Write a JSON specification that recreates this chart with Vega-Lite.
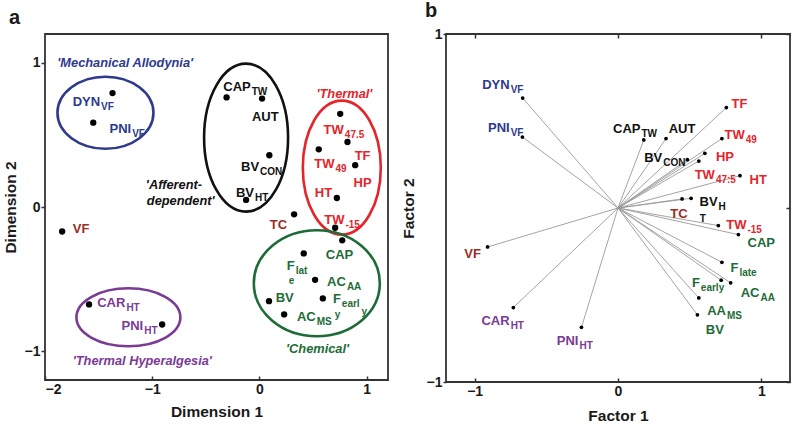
{
  "$schema": "https://vega.github.io/schema/vega-lite/v6.json",
  "background": "white",
  "padding": {"left": 2, "top": 0, "right": 2, "bottom": 2},
  "spacing": 11,
  "config": {
    "font": "Liberation Sans",
    "view": {"stroke": "#333333", "strokeWidth": 1.8},
    "axis": {
      "grid": false, "domain": false,
      "labelFont": "Liberation Sans", "labelFontSize": 14, "labelFontWeight": "bold", "labelColor": "#1a1a1a",
      "titleFont": "Liberation Sans", "titleFontSize": 15.5, "titleFontWeight": "bold", "titleColor": "#1a1a1a",
      "tickColor": "#333333", "tickWidth": 1.5
    },
    "title": {"font": "Liberation Sans", "fontSize": 20, "fontWeight": "bold", "color": "#1a1a1a", "anchor": "start", "baseline": "alphabetic"}
  },
  "datasets": {
    "ellA": [
      {"g": "mech", "x": -1.436, "y": 0.654},
      {"g": "aff", "x": -0.124, "y": 0.481},
      {"g": "therm", "x": 0.769, "y": 0.273},
      {"g": "chem", "x": 0.536, "y": -0.529},
      {"g": "hyper", "x": -1.222, "y": -0.765}
    ],
    "ptsA": [
      {"id": "DYN_VF", "x": -1.37, "y": 0.79},
      {"id": "PNI_VF", "x": -1.55, "y": 0.585},
      {"id": "CAP_TW", "x": -0.306, "y": 0.76},
      {"id": "AUT", "x": 0.025, "y": 0.752},
      {"id": "BV_CON", "x": 0.093, "y": 0.359},
      {"id": "BV_HT", "x": -0.124, "y": 0.049},
      {"id": "TW47.5", "x": 0.754, "y": 0.646},
      {"id": "TW49", "x": 0.554, "y": 0.40},
      {"id": "TF", "x": 0.822, "y": 0.451},
      {"id": "HP", "x": 0.894, "y": 0.29},
      {"id": "HT", "x": 0.723, "y": 0.0625},
      {"id": "TW-15", "x": 0.707, "y": -0.144},
      {"id": "TC", "x": 0.324, "y": -0.051},
      {"id": "VF", "x": -1.84, "y": -0.17},
      {"id": "CAP", "x": 0.773, "y": -0.231},
      {"id": "F_late", "x": 0.414, "y": -0.322},
      {"id": "AC_AA", "x": 0.52, "y": -0.505},
      {"id": "BV", "x": 0.09, "y": -0.653},
      {"id": "F_early", "x": 0.592, "y": -0.634},
      {"id": "AC_MS", "x": 0.231, "y": -0.745},
      {"id": "CAR_HT", "x": -1.589, "y": -0.676},
      {"id": "PNI_HT", "x": -0.907, "y": -0.815}
    ],
    "labA": [
      {"t": "DYN", "s": "VF", "g": "mech", "x": -1.486, "y": 0.699},
      {"t": "PNI", "s": "VF", "g": "mech", "x": -1.196, "y": 0.516},
      {"t": "CAP", "s": "TW", "g": "aff", "x": -0.081, "y": 0.806},
      {"t": "AUT", "s": "", "g": "aff", "x": 0.180, "y": 0.597},
      {"t": "BV", "s": "CON", "g": "aff", "x": -0.003, "y": 0.25},
      {"t": "BV", "s": "HT", "g": "aff", "x": -0.050, "y": 0.072},
      {"t": "TW", "s": "47.5", "g": "therm", "x": 0.788, "y": 0.509},
      {"t": "TF", "s": "", "g": "therm", "x": 1.037, "y": 0.324},
      {"t": "TW", "s": "49", "g": "therm", "x": 0.701, "y": 0.273},
      {"t": "HP", "s": "", "g": "therm", "x": 1.047, "y": 0.141},
      {"t": "HT", "s": "", "g": "therm", "x": 0.679, "y": 0.072},
      {"t": "TW", "s": "-15", "g": "therm", "x": 0.794, "y": -0.116},
      {"t": "TC", "s": "", "g": "tc", "x": 0.259, "y": -0.155},
      {"t": "VF", "s": "", "g": "tc", "x": -1.586, "y": -0.183},
      {"t": "CAP", "s": "", "g": "chem", "x": 0.876, "y": -0.363},
      {"t": "F", "s": "lat", "g": "chem", "x": 0.330, "y": -0.44},
      {"t": "", "s": "e", "g": "chem", "x": 0.264, "y": -0.509},
      {"t": "AC", "s": "AA", "g": "chem", "x": 0.807, "y": -0.549},
      {"t": "BV", "s": "", "g": "chem", "x": 0.321, "y": -0.657},
      {"t": "F", "s": "earl", "g": "chem", "x": 0.760, "y": -0.664},
      {"t": "", "s": "y", "g": "chem", "x": 0.944, "y": -0.72},
      {"t": "AC", "s": "MS", "g": "chem", "x": 0.526, "y": -0.792},
      {"t": "", "s": "y", "g": "chem", "x": 0.694, "y": -0.74},
      {"t": "CAR", "s": "HT", "g": "hyper", "x": -1.25, "y": -0.694},
      {"t": "PNI", "s": "HT", "g": "hyper", "x": -1.084, "y": -0.854}
    ],
    "titA": [
      {"t": "'Mechanical Allodynia'", "g": "mech", "x": -1.885, "y": 0.974},
      {"t": "'Afferent-", "g": "aff", "x": -1.059, "y": 0.123},
      {"t": "dependent'", "g": "aff", "x": -1.05, "y": 0.014},
      {"t": "'Thermal'", "g": "therm", "x": 0.533, "y": 0.759},
      {"t": "'Chemical'", "g": "chem", "x": 0.249, "y": -1.012},
      {"t": "'Thermal Hyperalgesia'", "g": "hyper", "x": -1.741, "y": -1.093}
    ],
    "ptsB": [
      {"id": "DYN_VF", "x": -0.665, "y": 0.632},
      {"id": "PNI_VF", "x": -0.667, "y": 0.408},
      {"id": "CAP_TW", "x": 0.18, "y": 0.391},
      {"id": "AUT", "x": 0.335, "y": 0.399},
      {"id": "TF", "x": 0.756, "y": 0.577},
      {"id": "TW49", "x": 0.725, "y": 0.399},
      {"id": "HP", "x": 0.606, "y": 0.314},
      {"id": "BV_CON", "x": 0.484, "y": 0.278},
      {"id": "TW47.5", "x": 0.564, "y": 0.27},
      {"id": "HT", "x": 0.851, "y": 0.186},
      {"id": "BV_HT", "x": 0.51, "y": 0.056},
      {"id": "TC", "x": 0.447, "y": 0.052},
      {"id": "TW-15", "x": 0.7, "y": -0.101},
      {"id": "CAP", "x": 0.84, "y": -0.153},
      {"id": "F_late", "x": 0.725, "y": -0.312},
      {"id": "F_early", "x": 0.72, "y": -0.415},
      {"id": "AC_AA", "x": 0.786, "y": -0.43},
      {"id": "AA_MS", "x": 0.564, "y": -0.517},
      {"id": "BV", "x": 0.554, "y": -0.614},
      {"id": "VF", "x": -0.91, "y": -0.224},
      {"id": "CAR_HT", "x": -0.73, "y": -0.572},
      {"id": "PNI_HT", "x": -0.255, "y": -0.686}
    ],
    "labB": [
      {"t": "DYN", "s": "VF", "g": "mech", "x": -0.756, "y": 0.684},
      {"t": "PNI", "s": "VF", "g": "mech", "x": -0.756, "y": 0.435},
      {"t": "CAP", "s": "TW", "g": "aff", "x": 0.157, "y": 0.431},
      {"t": "AUT", "s": "", "g": "aff", "x": 0.540, "y": 0.431},
      {"t": "TF", "s": "", "g": "therm", "x": 0.903, "y": 0.573},
      {"t": "TW", "s": "49", "g": "therm", "x": 0.884, "y": 0.397},
      {"t": "HP", "s": "", "g": "therm", "x": 0.809, "y": 0.272},
      {"t": "BV", "s": "CON", "g": "aff", "x": 0.309, "y": 0.267},
      {"t": "TW", "s": "47:5", "g": "therm", "x": 0.676, "y": 0.167},
      {"t": "HT", "s": "", "g": "therm", "x": 1.039, "y": 0.138},
      {"t": "BV", "s": "H", "g": "aff", "x": 0.695, "y": 0.01},
      {"t": "", "s": "T", "g": "aff", "x": 0.564, "y": -0.059},
      {"t": "TC", "s": "", "g": "tc", "x": 0.486, "y": -0.059},
      {"t": "TW", "s": "-15", "g": "therm", "x": 0.896, "y": -0.121},
      {"t": "CAP", "s": "", "g": "chem", "x": 1.095, "y": -0.226},
      {"t": "F", "s": "late", "g": "chem", "x": 0.84, "y": -0.37},
      {"t": "F", "s": "early", "g": "chem", "x": 0.571, "y": -0.456},
      {"t": "AC", "s": "AA", "g": "chem", "x": 0.987, "y": -0.513},
      {"t": "AA", "s": "MS", "g": "chem", "x": 0.753, "y": -0.615},
      {"t": "BV", "s": "", "g": "chem", "x": 0.739, "y": -0.727},
      {"t": "VF", "s": "", "g": "tc", "x": -0.957, "y": -0.289},
      {"t": "CAR", "s": "HT", "g": "hyper", "x": -0.756, "y": -0.672},
      {"t": "PNI", "s": "HT", "g": "hyper", "x": -0.276, "y": -0.785}
    ]
  },
  "hconcat": [
    {
      "width": 343, "height": 346,
      "title": {"text": "a", "dx": 6, "offset": 6},
      "layer": [
        {
          "data": {"name": "ellA"},
          "mark": {"type": "point", "filled": false, "size": 4, "strokeWidth": 2.6, "opacity": 1},
          "encoding": {
            "x": {"field": "x", "type": "quantitative", "scale": {"domain": [-2, 1.2], "nice": false, "zero": false},
                  "axis": {"values": [-2, -1, 0, 1], "format": "d", "tickSize": -4, "labelPadding": 6, "title": "Dimension 1", "titlePadding": 8}},
            "y": {"field": "y", "type": "quantitative", "scale": {"domain": [-1.2, 1.2], "nice": false, "zero": false},
                  "axis": {"values": [-1, 0, 1], "format": "d", "tickSize": 4, "labelPadding": 1, "title": "Dimension 2", "titlePadding": 6}},
            "shape": {"field": "g", "type": "nominal", "legend": null,
                      "scale": {"domain": ["mech", "aff", "therm", "chem", "hyper"],
                                "range": ["M -48 0 A 48 36 0 1 0 48 0 A 48 36 0 1 0 -48 0 Z",
                                          "M -42 0 A 42 74 0 1 0 42 0 A 42 74 0 1 0 -42 0 Z",
                                          "M -39 0 A 39 67 0 1 0 39 0 A 39 67 0 1 0 -39 0 Z",
                                          "M -63 0 A 63 53 0 1 0 63 0 A 63 53 0 1 0 -63 0 Z",
                                          "M -52 0 A 52 29 0 1 0 52 0 A 52 29 0 1 0 -52 0 Z"]}},
            "color": {"field": "g", "type": "nominal", "legend": null,
                      "scale": {"domain": ["mech", "aff", "therm", "tc", "chem", "hyper"],
                                "range": ["#2e3a8c", "#111111", "#e4252b", "#9b2d24", "#1d6b36", "#7b3a93"]}}
          }
        },
        {
          "data": {"name": "ptsA"},
          "mark": {"type": "circle", "size": 40, "color": "#000000", "opacity": 1},
          "encoding": {
            "x": {"field": "x", "type": "quantitative"},
            "y": {"field": "y", "type": "quantitative"}
          }
        },
        {
          "data": {"name": "labA"},
          "mark": {"type": "text", "align": "right", "baseline": "alphabetic", "fontSize": 13, "fontWeight": "bold"},
          "encoding": {
            "x": {"field": "x", "type": "quantitative"},
            "y": {"field": "y", "type": "quantitative"},
            "text": {"field": "t", "type": "nominal"},
            "color": {"field": "g", "type": "nominal", "legend": null}
          }
        },
        {
          "data": {"name": "labA"},
          "mark": {"type": "text", "align": "left", "baseline": "alphabetic", "fontSize": 10, "fontWeight": "bold", "dy": 4, "dx": 1},
          "encoding": {
            "x": {"field": "x", "type": "quantitative"},
            "y": {"field": "y", "type": "quantitative"},
            "text": {"field": "s", "type": "nominal"},
            "color": {"field": "g", "type": "nominal", "legend": null}
          }
        },
        {
          "data": {"name": "titA"},
          "mark": {"type": "text", "align": "left", "baseline": "alphabetic", "fontSize": 12.8, "fontWeight": "bold", "fontStyle": "italic"},
          "encoding": {
            "x": {"field": "x", "type": "quantitative"},
            "y": {"field": "y", "type": "quantitative"},
            "text": {"field": "t", "type": "nominal"},
            "color": {"field": "g", "type": "nominal", "legend": null}
          }
        }
      ]
    },
    {
      "width": 344, "height": 348,
      "title": {"text": "b", "dx": 24, "offset": 6},
      "resolve": {"axis": {"x": "independent", "y": "independent"}},
      "layer": [
        {
          "data": {"name": "ptsB"},
          "mark": {"type": "rule", "color": "#9a9a9a", "strokeWidth": 0.9},
          "encoding": {
            "x": {"field": "x", "type": "quantitative", "scale": {"domain": [-1.2, 1.2], "nice": false, "zero": false},
                  "axis": {"values": [-1, 0, 1], "format": "d", "tickSize": -4, "labelPadding": 6, "title": "Factor 1", "titlePadding": 10}},
            "y": {"field": "y", "type": "quantitative", "scale": {"domain": [-1, 1], "nice": false, "zero": false},
                  "axis": {"values": [-1, 0, 1], "format": "d", "tickSize": 3, "labelPadding": 1, "title": "Factor 2", "titlePadding": 10}},
            "x2": {"datum": 0},
            "y2": {"datum": 0}
          }
        },
        {
          "data": {"name": "ptsB"},
          "mark": {"type": "circle", "size": 14, "color": "#000000", "opacity": 1},
          "encoding": {
            "x": {"field": "x", "type": "quantitative",
                  "axis": {"orient": "top", "values": [-1, 0, 1], "labels": false, "title": null, "tickSize": -4}},
            "y": {"field": "y", "type": "quantitative",
                  "axis": {"orient": "right", "values": [-1, 0, 1], "labels": false, "title": null, "tickSize": -4}}
          }
        },
        {
          "data": {"name": "labB"},
          "mark": {"type": "text", "align": "right", "baseline": "alphabetic", "fontSize": 13, "fontWeight": "bold"},
          "encoding": {
            "x": {"field": "x", "type": "quantitative", "axis": null},
            "y": {"field": "y", "type": "quantitative", "axis": null},
            "text": {"field": "t", "type": "nominal"},
            "color": {"field": "g", "type": "nominal", "legend": null,
                      "scale": {"domain": ["mech", "aff", "therm", "tc", "chem", "hyper"],
                                "range": ["#2e3a8c", "#111111", "#e4252b", "#9b2d24", "#1d6b36", "#7b3a93"]}}
          }
        },
        {
          "data": {"name": "labB"},
          "mark": {"type": "text", "align": "left", "baseline": "alphabetic", "fontSize": 10, "fontWeight": "bold", "dy": 4, "dx": 1},
          "encoding": {
            "x": {"field": "x", "type": "quantitative", "axis": null},
            "y": {"field": "y", "type": "quantitative", "axis": null},
            "text": {"field": "s", "type": "nominal"},
            "color": {"field": "g", "type": "nominal", "legend": null}
          }
        }
      ]
    }
  ]
}
